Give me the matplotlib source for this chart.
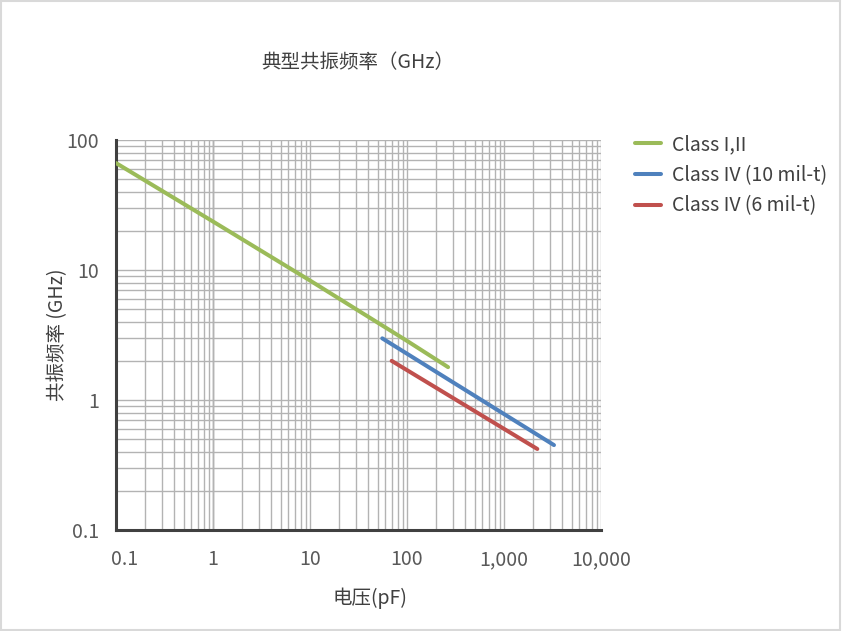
import numpy as np
import matplotlib
matplotlib.use('Agg')
import matplotlib.pyplot as plt
from matplotlib.ticker import FixedLocator, NullFormatter
from matplotlib.transforms import ScaledTranslation

plt.rcParams['font.family'] = ['Noto Sans CJK SC', 'DejaVu Sans']

# values (capacitance pF, frequency GHz)
class12_x = [0.1, 1, 10, 100, 265]
class12_y = [66.5, 23.6, 8.3, 2.85, 1.79]
class4_10_x = [55.6, 1000, 3275]
class4_10_y = [2.98, 0.78, 0.45]
class4_6_x = [69.5, 1000, 2205]
class4_6_y = [2.0, 0.60, 0.42]

labels = ['Class I,II', 'Class IV (10 mil-t)', 'Class IV (6 mil-t)']
colors = ['#9BBB59', '#4F81BD', '#C0504D']

x_ticks = [0.1, 1, 10, 100, 1000, 10000]
x_ticklabels = ['0.1', '1', '10', '100', '1,000', '10,000']
y_ticks = [0.1, 1, 10, 100]
y_ticklabels = ['0.1', '1', '10', '100']

fig = plt.figure(figsize=(8.42, 6.31), dpi=100)
ax = fig.add_axes([116 / 842, 1 - 530 / 631, 485 / 842, 390 / 631])

series = [(class12_x, class12_y), (class4_10_x, class4_10_y), (class4_6_x, class4_6_y)]
for (xs, ys), lab, c in zip(series, labels, colors):
    ax.plot(xs, ys, color=c, lw=2.9, label=lab, solid_capstyle='round', zorder=3)

ax.set_xscale('log')
ax.set_yscale('log')
ax.set_xlim(0.1, 10000)
ax.set_ylim(0.1, 100)

ax.xaxis.set_major_locator(FixedLocator(x_ticks))
ax.set_xticklabels(x_ticklabels)
ax.yaxis.set_major_locator(FixedLocator(y_ticks))
ax.set_yticklabels(y_ticklabels)
ax.xaxis.set_minor_formatter(NullFormatter())
ax.yaxis.set_minor_formatter(NullFormatter())

ax.grid(True, which='both', color='#B3B3B3', lw=1.0, zorder=0)
ax.axvline(1, color='#8C8C8C', lw=1.0, zorder=1)
ax.tick_params(which='both', length=0, colors='#595959', labelsize=14)
ax.tick_params(axis='x', pad=14)
ax.tick_params(axis='y', pad=12)
for lbl in ax.get_xticklabels()[:1]:
    lbl.set_transform(lbl.get_transform() + ScaledTranslation(9 / 100, 0, fig.dpi_scale_trans))

for s in ['top', 'right']:
    ax.spines[s].set_visible(False)
for s in ['left', 'bottom']:
    ax.spines[s].set_color('#404040')
    ax.spines[s].set_linewidth(2.2)

ax.set_xlabel('电压(pF)', color='#404040', fontsize=14)
ax.set_ylabel('共振频率 (GHz)', color='#404040', fontsize=14)
ax.xaxis.set_label_coords((370 - 116) / 485, -(598 - 530) / 390)
ax.yaxis.set_label_coords(-(116 - 58) / 485, 0.5)
ax.xaxis.label.set_va('center')
ax.yaxis.label.set_va('center')
fig.text(358 / 842, 1 - 62 / 631, '典型共振频率（GHz）', ha='center', va='center',
         color='#404040', fontsize=14)

ax.legend(loc='upper left', bbox_to_anchor=(1.035, 1.06), frameon=False,
          fontsize=14, handlelength=1.3, handletextpad=0.6, labelspacing=0.5,
          labelcolor='#404040')

# light border around the picture
fig.patches.append(plt.Rectangle((0.001, 0.001), 0.997, 0.997, transform=fig.transFigure,
                                 fill=False, edgecolor='#D9D9D9', lw=1.5))

fig.savefig('out.png', dpi=100)
